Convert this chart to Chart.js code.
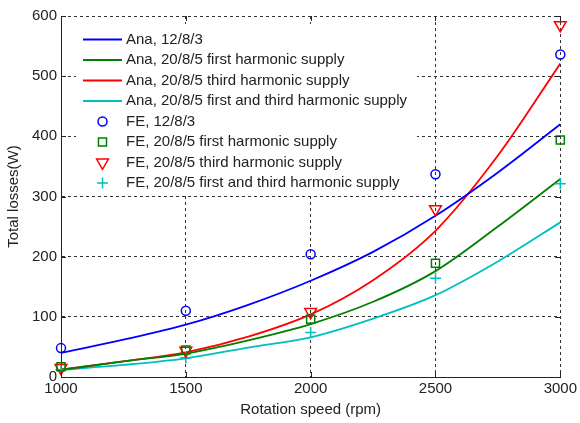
<!DOCTYPE html>
<html>
<head>
<meta charset="utf-8">
<script src="https://cdn.jsdelivr.net/npm/chart.js@4/dist/chart.umd.min.js"></script>
<style>
  html, body { margin: 0; padding: 0; background: #fff; }
</style>
</head>
<body>
<canvas id="chart" width="580" height="423"></canvas>
<script>
// analytic curves, read every 250 rpm
const speedAna = [1000, 1250, 1500, 1750, 2000, 2250, 2500, 2750, 3000]
const ana1283 = [40, 62, 87, 120, 160, 208, 268, 340, 420]
const anaFirst = [12, 26, 39, 61, 88, 125, 176, 250, 329]
const anaThird = [12, 26, 41, 67, 104, 161, 243, 368, 521]
const anaBoth = [12, 20, 31, 49, 66, 97, 136, 192, 257]

// FE points
const speedFE = [1000, 1500, 2000, 2500, 3000]
const fe1283 = [48, 110, 204, 337, 536]
const feFirst = [17, 45, 96, 189, 394]
const feThird = [15, 44, 108, 279, 585]
const feBoth = [12, 32, 74, 164, 321]

const xTicks = [1000, 1500, 2000, 2500, 3000]
const yTicks = [0, 100, 200, 300, 400, 500, 600]

const FONT = '"Liberation Sans", Arial, sans-serif'
const TEXT = '#222'

const pts = (xs, ys) => xs.map((x, i) => ({ x: x, y: ys[i] }))

function anaSet(label, ys, color) {
  return {
    label: label, data: pts(speedAna, ys),
    borderColor: color, backgroundColor: color, borderWidth: 1.8,
    pointRadius: 0, cubicInterpolationMode: 'monotone', showLine: true, order: 2
  }
}

function feSet(label, ys, color, style, radius, rotation) {
  return {
    label: label, data: pts(speedFE, ys), showLine: false, clip: false,
    borderColor: color, backgroundColor: 'rgba(0,0,0,0)',
    pointStyle: style, pointRadius: radius, pointRotation: rotation || 0,
    pointBorderWidth: 1.5, pointHoverRadius: radius, order: 1
  }
}

// legend drawn inside the plot, top left
const insideLegend = {
  id: 'insideLegend',
  afterDraw(chart) {
    const ctx = chart.ctx
    ctx.save()
    ctx.fillStyle = '#fff'
    ctx.fillRect(76, 24, 341, 171)
    ctx.font = '15px ' + FONT
    ctx.textBaseline = 'middle'
    chart.data.datasets.forEach((d, i) => {
      const y = 39.5 + i * 20.5
      ctx.strokeStyle = d.borderColor
      if (d.showLine) {
        ctx.lineWidth = d.borderWidth
        ctx.beginPath()
        ctx.moveTo(83, y)
        ctx.lineTo(122, y)
        ctx.stroke()
      } else {
        ctx.lineWidth = d.pointBorderWidth
        ctx.fillStyle = 'rgba(0,0,0,0)'
        Chart.helpers.drawPoint(ctx, {
          pointStyle: d.pointStyle, rotation: d.pointRotation,
          radius: d.pointRadius, borderWidth: d.pointBorderWidth
        }, 102.5, y)
      }
      ctx.fillStyle = TEXT
      ctx.fillText(d.label, 126, y)
    })

    // small inward tick marks like the original axes
    const a = chart.chartArea
    const xs = chart.scales.x, ys = chart.scales.y
    ctx.strokeStyle = TEXT
    ctx.lineWidth = 1
    ctx.beginPath()
    xTicks.forEach(v => {
      const px = Math.round(xs.getPixelForValue(v)) + 0.5
      ctx.moveTo(px, a.bottom); ctx.lineTo(px, a.bottom - 5)
      ctx.moveTo(px, a.top); ctx.lineTo(px, a.top + 5)
    })
    yTicks.forEach(v => {
      const py = Math.round(ys.getPixelForValue(v)) + 0.5
      ctx.moveTo(a.left, py); ctx.lineTo(a.left + 5, py)
      ctx.moveTo(a.right, py); ctx.lineTo(a.right - 5, py)
    })
    ctx.stroke()
    ctx.restore()
  }
}

new Chart(document.getElementById('chart'), {
  type: 'scatter',
  data: {
    datasets: [
      anaSet('Ana, 12/8/3', ana1283, '#0000ff'),
      anaSet('Ana, 20/8/5 first harmonic supply', anaFirst, '#008000'),
      anaSet('Ana, 20/8/5 third harmonic supply', anaThird, '#ff0000'),
      anaSet('Ana, 20/8/5 first and third harmonic supply', anaBoth, '#00bfbf'),
      feSet('FE, 12/8/3', fe1283, '#0000ff', 'circle', 4.5),
      feSet('FE, 20/8/5 first harmonic supply', feFirst, '#008000', 'rect', 5.7),
      feSet('FE, 20/8/5 third harmonic supply', feThird, '#ff0000', 'triangle', 6.8, 180),
      feSet('FE, 20/8/5 first and third harmonic supply', feBoth, '#00bfbf', 'cross', 5.5)
    ]
  },
  options: {
    responsive: false,
    animation: false,
    layout: { padding: { top: 16, right: 18, left: 0, bottom: 0 } },
    plugins: { legend: { display: false }, tooltip: { enabled: false } },
    scales: {
      x: {
        type: 'linear', min: 1000, max: 3000,
        afterBuildTicks: s => { s.ticks = xTicks.map(v => ({ value: v })) },
        afterFit: s => { s.height = 46 },
        ticks: { color: TEXT, font: { family: FONT, size: 15 }, padding: 3, maxRotation: 0,
                 callback: v => String(v) },
        grid: { color: '#333', lineWidth: 1, drawTicks: false },
        border: { display: true, color: '#222', width: 1, dash: [3, 3] },
        title: { display: true, text: 'Rotation speed (rpm)', color: TEXT,
                 font: { family: FONT, size: 15 }, padding: { top: 0, bottom: 4 } }
      },
      y: {
        type: 'linear', min: 0, max: 600,
        afterBuildTicks: s => { s.ticks = yTicks.map(v => ({ value: v })) },
        afterFit: s => { s.width = 61 },
        ticks: { color: TEXT, font: { family: FONT, size: 15 }, padding: 4,
                 callback: v => String(v) },
        grid: { color: '#333', lineWidth: 1, drawTicks: false },
        border: { display: true, color: '#222', width: 1, dash: [3, 3] },
        title: { display: true, text: 'Total losses(W)', color: TEXT,
                 font: { family: FONT, size: 15 }, padding: { top: 5, bottom: 0 } }
      }
    }
  },
  plugins: [insideLegend]
})
</script>
</body>
</html>
